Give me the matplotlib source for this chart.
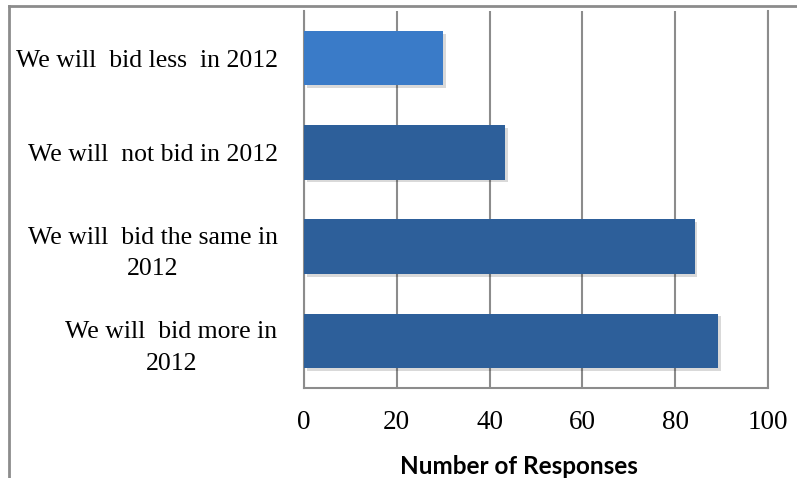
import matplotlib
matplotlib.use("Agg")
import matplotlib.pyplot as plt
from matplotlib import patheffects as pe
from matplotlib.lines import Line2D

categories = ["We will  bid more in\n2012", "We will  bid the same in\n2012",
              "We will  not bid in 2012", "We will  bid less  in 2012"]
values = [89.3, 84.2, 43.3, 29.9]
colors = ["#2d5f9a", "#2d5f9a", "#2d5f9a", "#3a7bc8"]
xticks = [0, 20, 40, 60, 80, 100]

fig = plt.figure(figsize=(7.97, 4.78), dpi=100)
ax = fig.add_axes([304/797, 1-388/478, (768-304)/797, (388-11)/478])

bars = ax.barh(range(len(categories)), values, height=0.58, color=colors, zorder=3)
for b in bars:
    b.set_path_effects([pe.SimplePatchShadow(offset=(2, -2), shadow_rgbFace="#000000", alpha=0.15), pe.Normal()])

ax.set_xlim(0, 100)
ax.set_ylim(-0.5, len(categories) - 0.5)
ax.set_xticks(xticks)
ax.set_xticklabels([str(t) for t in xticks], fontfamily="Liberation Serif", fontsize=19.5)
ax.set_yticks(range(len(categories)))
ax.set_yticklabels(categories, fontfamily="Liberation Serif", fontsize=18.5, ha="right",
                   multialignment="center", linespacing=1.55)
ax.tick_params(axis="y", length=0, pad=19)
ax.tick_params(axis="x", length=0, pad=16)
ax.grid(axis="x", color="#8c8c8c", linewidth=1.5, zorder=0)
for s in ax.spines.values():
    s.set_color("#8c8c8c")
    s.set_linewidth(1.5)
ax.spines["top"].set_visible(False)

fig.text(519/797, 1-466/478, "Number of Responses", ha="center", va="center",
         fontfamily="Lato", fontweight="bold", fontsize=17.5)

fig.add_artist(Line2D([9/797, 9/797], [0, 1-6/478], transform=fig.transFigure, color="#8c8c8c", lw=2))
fig.add_artist(Line2D([9/797, 1], [1-6/478, 1-6/478], transform=fig.transFigure, color="#8c8c8c", lw=2))

fig.savefig("out.png", dpi=100)
